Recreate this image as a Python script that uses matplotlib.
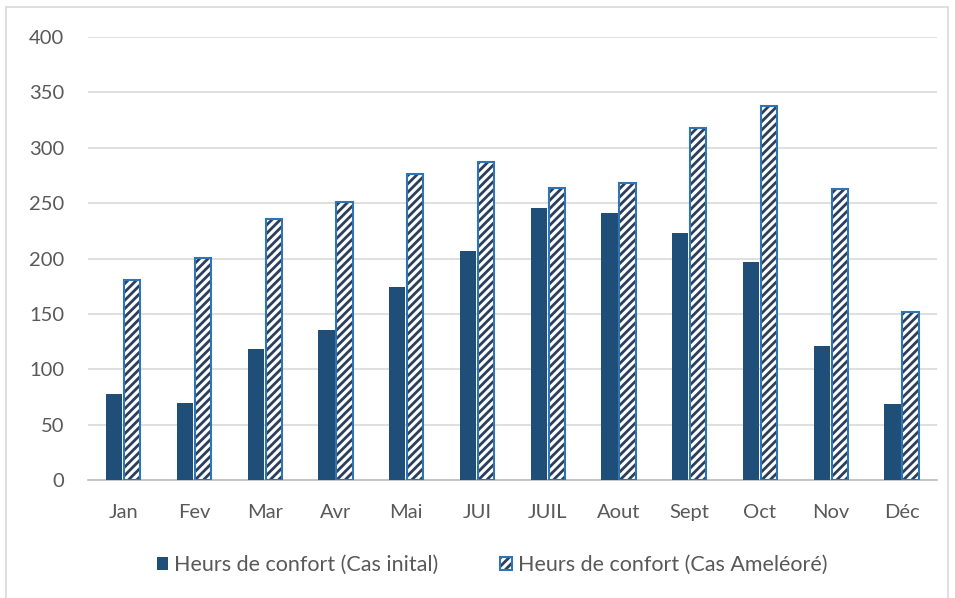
import matplotlib.pyplot as plt
import numpy as np
from matplotlib.patches import Rectangle

plt.rcParams["font.family"] = ["Lato", "DejaVu Sans"]
plt.rcParams["hatch.linewidth"] = 2.0

months = ["Jan", "Fev", "Mar", "Avr", "Mai", "JUI", "JUIL", "Aout", "Sept", "Oct", "Nov", "Déc"]
initial = [78, 70, 118, 136, 174, 207, 246, 241, 223, 197, 121, 69]
ameliore = [181, 201, 236, 251, 276, 287, 264, 268, 318, 338, 263, 152]
yticks = [0, 50, 100, 150, 200, 250, 300, 350, 400]

dark_blue = "#1F4E79"
navy = "#2B3F5C"
edge_blue = "#2E75B6"
text_gray = "#595959"

fig = plt.figure(figsize=(9.55, 5.98), dpi=100)
ax = fig.add_axes([0.092, 0.197, 0.889, 0.741])

x = np.arange(len(months))
w = 0.23
off = 0.128

b1 = ax.bar(x - off, initial, w, color=dark_blue, zorder=3)
b2 = ax.bar(x + off, ameliore, w, color="white", edgecolor=navy, hatch="////", linewidth=0, zorder=3)
b3 = ax.bar(x + off, ameliore, w, fill=False, edgecolor=edge_blue, linewidth=1.5, zorder=4)

ax.set_xlim(-0.5, len(months) - 0.5)
ax.set_ylim(0, 400)
ax.set_yticks(yticks)
ax.set_xticks(x)
ax.set_xticklabels(months)
ax.tick_params(axis="both", length=0, labelsize=14.5, colors=text_gray)
ax.tick_params(axis="x", pad=17)
ax.tick_params(axis="y", pad=17)
ax.grid(axis="y", color="#D9D9D9", linewidth=1.2, zorder=0)

for s in ["top", "right", "left"]:
    ax.spines[s].set_visible(False)
ax.spines["bottom"].set_color("#BFBFBF")
ax.spines["bottom"].set_linewidth(1.2)

fig.legend(
    [b1, (b2, b3)],
    ["Heurs de confort (Cas inital)", "Heurs de confort (Cas Ameléoré)"],
    loc="center",
    bbox_to_anchor=(0.515, 0.055),
    ncol=2,
    frameon=False,
    fontsize=15.5,
    labelcolor=text_gray,
    handlelength=0.55,
    handleheight=0.55,
    handletextpad=0.25,
    columnspacing=2.9,
)

fig.patches.append(Rectangle((0.006, -0.01), 0.987, 0.998, transform=fig.transFigure,
                             fill=False, edgecolor="#D9D9D9", linewidth=1.2))

plt.savefig("out.png", dpi=100, facecolor="white")
